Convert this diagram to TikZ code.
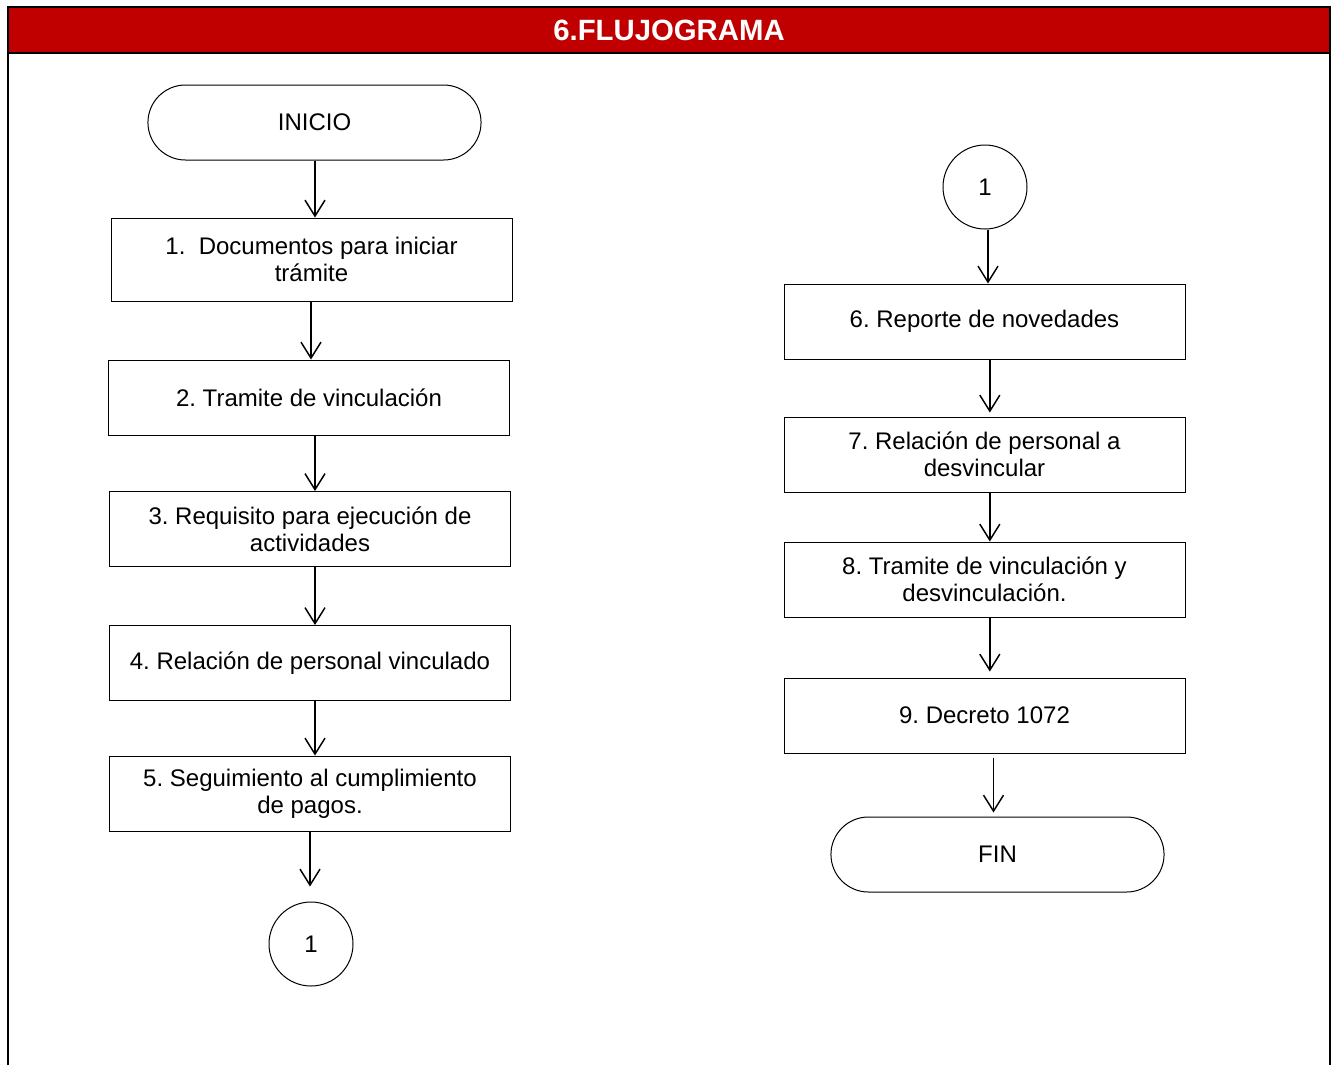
\documentclass[tikz,border=0pt]{standalone}
\usepackage{fontspec}
\setmainfont{Liberation Sans}
\usetikzlibrary{arrows.meta}
\usetikzlibrary{shapes.misc}
\definecolor{cabecera}{HTML}{C00000}
\tikzset{
  texto/.style={font=\fontsize{18}{20.25}\selectfont},
  paso/.style={texto, draw, line width=0.75pt, minimum width=300.75pt, minimum height=56.25pt, align=center, inner sep=0pt},
  terminal/.style={texto, draw, rounded rectangle, line width=0.75pt, minimum width=256.5pt, minimum height=56.25pt},
  conector/.style={texto, draw, circle, line width=0.75pt, minimum size=63pt, inner sep=0pt},
  flecha/.style={-{Straight Barb[length=12pt,width=15pt]}, line width=1.1pt}
}
\frenchspacing
\begin{document}
\begin{tikzpicture}[x=0.75pt,y=-0.75pt]
			\useasboundingbox (0,0) rectangle (1332,1065);
			% marco y cabecera
			\fill[cabecera] (8,7) rectangle (1330,53);
			\draw[line width=2.2pt] (8,1065)--(8,7)--(1330,7)--(1330,1065) (8,53)--(1330,53);
			\node[font=\bfseries\fontsize{22}{26}\selectfont, text=white] (titulo) at (669,30) {6.FLUJOGRAMA};
			% columna izquierda
			\node[terminal] (inicio) at (314.5,122.5) {INICIO};
			\node[paso, minimum height=62.25pt] (p1) at (311.5,259.5) {1.\ \ Documentos para iniciar\\trámite};
			\node[paso] (p2) at (309,397.5) {2. Tramite de vinculación};
			\node[paso] (p3) at (310,529) {3. Requisito para ejecución de\\actividades};
			\node[paso] (p4) at (310,663) {4. Relación de personal vinculado};
			\node[paso] (p5) at (310,793.5) {5. Seguimiento al cumplimiento\\de pagos.};
			\node[conector] (c1) at (311,944) {1};
			% columna derecha
			\node[conector] (c2) at (985,187) {1};
			\node[paso] (p6) at (984.5,321.5) {6. Reporte de novedades};
			\node[paso] (p7) at (984.5,454.5) {7. Relación de personal a\\desvincular};
			\node[paso] (p8) at (984.5,579.5) {8. Tramite de vinculación y\\desvinculación.};
			\node[paso] (p9) at (984.5,715.5) {9. Decreto 1072};
			\node[terminal] (fin) at (997.5,854.5) {FIN};
			% flechas
			\draw[flecha] ([xshift=0.375pt]inicio.south) -- ([xshift=0.375pt]inicio.south |- p1.north);
			\draw[flecha] ([xshift=-0.375pt]p1.south) -- ([xshift=-0.375pt]p1.south |- p2.north);
			\draw[flecha] ([xshift=4.5pt]p2.south) -- ([xshift=4.5pt]p2.south |- p3.north);
			\draw[flecha] ([xshift=3.75pt]p3.south) -- ([xshift=3.75pt]p3.south |- p4.north);
			\draw[flecha] ([xshift=3.75pt]p4.south) -- ([xshift=3.75pt]p4.south |- p5.north);
			\draw[flecha, shorten >=11.25pt] (p5.south) -- (p5.south |- c1.north);
			\draw[flecha] ([xshift=2.25pt]c2.south) -- ([xshift=2.25pt]c2.south |- p6.north);
			\draw[flecha, shorten >=3pt] ([xshift=4pt]p6.south) -- ([xshift=4pt]p6.south |- p7.north);
			\draw[flecha] ([xshift=4pt]p7.south) -- ([xshift=4pt]p7.south |- p8.north);
			\draw[flecha, shorten >=4.5pt] ([xshift=4pt]p8.south) -- ([xshift=4pt]p8.south |- p9.north);
			\draw[flecha, shorten <=3pt, shorten >=3pt] ([xshift=-3pt]fin.north |- p9.south) -- ([xshift=-3pt]fin.north);
		\end{tikzpicture}
\end{document}
